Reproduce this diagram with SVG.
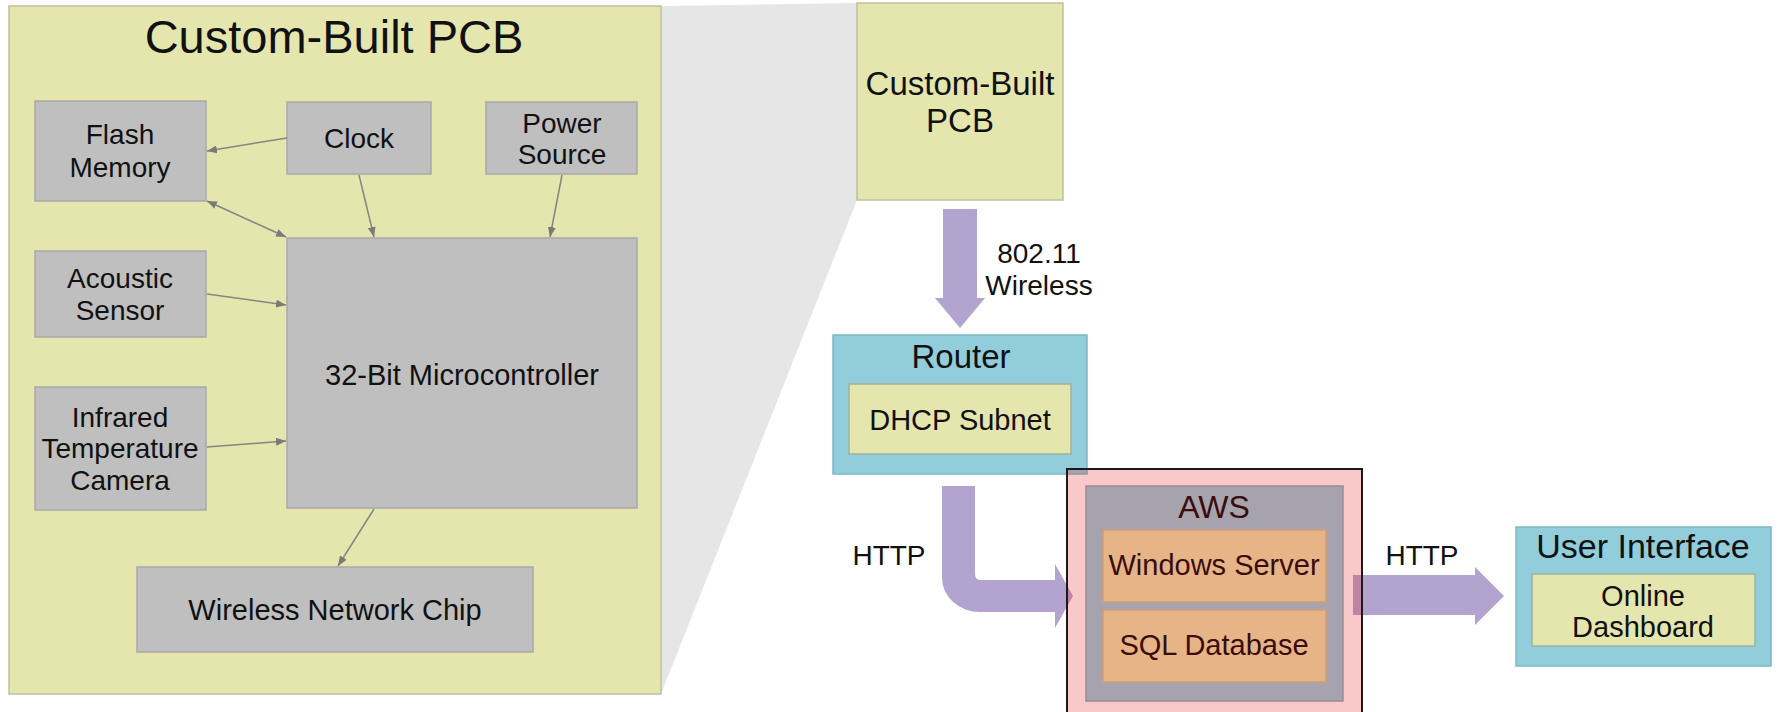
<svg xmlns="http://www.w3.org/2000/svg" width="1777" height="712" viewBox="0 0 1777 712">
  <style>
    text { font-family: "Liberation Sans", Arial, sans-serif; fill: #111; text-anchor: middle; }
    .panel { fill: #e4e6ae; stroke: #bfc19b; stroke-width: 1.5; }
    .part { fill: #bfbfbf; stroke: #a9a9a9; stroke-width: 1.5; }
    .blue { fill: #92cddc; stroke: #7fb7c5; stroke-width: 1.5; }
    .inner { fill: #e4e6ae; stroke: #9fb39a; stroke-width: 1.5; }
    .orange { fill: #e6b486; stroke: #cf9f78; stroke-width: 1.5; }
    .wire { stroke: #858585; stroke-width: 1.5; fill: none; marker-end: url(#tip); }
    .flow { fill: #b3a4cf; }
    .t28 { font-size: 28px; }
    .t29 { font-size: 29px; }
    .aws { fill: #3a0c0c; }
  </style>
  <defs>
    <marker id="tip" viewBox="0 0 10 8" refX="10" refY="4" markerWidth="10" markerHeight="8" markerUnits="userSpaceOnUse" orient="auto-start-reverse">
      <path d="M0,0 L10,4 L0,8 z" fill="#7a7a7a"/>
    </marker>
  </defs>

  <rect width="1777" height="712" fill="#ffffff"/>

  <!-- zoom wedge linking the detailed board to its block -->
  <polygon id="zoom-wedge" points="661,6 857,3 857,200 661,694" fill="#e6e6e6"/>

  <!-- detailed board -->
  <g id="pcb-detail">
    <rect class="panel" x="9" y="6" width="652" height="688"/>
    <text x="334" y="53" style="font-size:47px">Custom-Built PCB</text>
  </g>

  <g id="flash-memory">
    <rect class="part" x="35" y="101" width="171" height="100"/>
    <text class="t28" x="120" y="144">Flash</text>
    <text class="t28" x="120" y="177">Memory</text>
  </g>

  <g id="clock">
    <rect class="part" x="287" y="102" width="144" height="72"/>
    <text class="t28" x="359" y="148">Clock</text>
  </g>

  <g id="power-source">
    <rect class="part" x="486" y="102" width="151" height="72"/>
    <text class="t28" x="562" y="133">Power</text>
    <text class="t28" x="562" y="164">Source</text>
  </g>

  <g id="acoustic-sensor">
    <rect class="part" x="35" y="251" width="171" height="86"/>
    <text class="t28" x="120" y="288">Acoustic</text>
    <text class="t28" x="120" y="320">Sensor</text>
  </g>

  <g id="ir-camera">
    <rect class="part" x="35" y="387" width="171" height="123"/>
    <text class="t28" x="120" y="427">Infrared</text>
    <text class="t28" x="120" y="458">Temperature</text>
    <text class="t28" x="120" y="490">Camera</text>
  </g>

  <g id="microcontroller">
    <rect class="part" x="287" y="238" width="350" height="270"/>
    <text class="t29" x="462" y="385">32-Bit Microcontroller</text>
  </g>

  <g id="wireless-chip">
    <rect class="part" x="137" y="567" width="396" height="85"/>
    <text class="t29" x="335" y="620">Wireless Network Chip</text>
  </g>

  <!-- on-board signal lines -->
  <g id="board-connectors">
    <line class="wire" x1="287" y1="138" x2="207" y2="151"/>
    <line class="wire" x1="207" y1="201" x2="286" y2="237" marker-start="url(#tip)"/>
    <line class="wire" x1="359" y1="175" x2="374" y2="237"/>
    <line class="wire" x1="562" y1="175" x2="550" y2="237"/>
    <line class="wire" x1="207" y1="294" x2="286" y2="305"/>
    <line class="wire" x1="207" y1="447" x2="286" y2="441"/>
    <line class="wire" x1="374" y1="509" x2="338" y2="566"/>
  </g>

  <!-- system overview -->
  <g id="pcb-block">
    <rect class="panel" x="857" y="3" width="206" height="197"/>
    <text x="960" y="95" style="font-size:33px">Custom-Built</text>
    <text x="960" y="132" style="font-size:33px">PCB</text>
  </g>

  <g id="router">
    <rect class="blue" x="833" y="335" width="254" height="139"/>
    <text x="961" y="368" style="font-size:33px">Router</text>
    <rect class="inner" x="849" y="384" width="222" height="70"/>
    <text class="t29" x="960" y="430">DHCP Subnet</text>
  </g>

  <g id="flow-connectors">
    <path class="flow" d="M943,209 L977,209 L977,298 L985,298 L960,328 L935,298 L943,298 Z"/>
    <text class="t28" x="1039" y="263">802.11</text>
    <text class="t28" x="1039" y="295">Wireless</text>

    <path class="flow" d="M942,486 L975,486 L975,574 Q975,580 981,580 L1055,580 L1055,564 L1073,596 L1055,628 L1055,612 L980,612 A38,34 0 0 1 942,578 Z"/>
    <text class="t28" x="889" y="565">HTTP</text>

    <path class="flow" d="M1353,575 L1475,575 L1475,567 L1504,596 L1475,625 L1475,615 L1353,615 Z"/>
    <text class="t28" x="1422" y="565">HTTP</text>
  </g>

  <g id="cloud">
    <rect x="1067" y="469" width="295" height="252" fill="rgb(230,30,30)" fill-opacity="0.24" stroke="#1a1a1a" stroke-width="2"/>
    <rect x="1086" y="486" width="257" height="215" fill="#a6a3ae" stroke="#998d96" stroke-width="1.5"/>
    <text class="aws" x="1214" y="518" style="font-size:32px">AWS</text>
    <g id="windows-server">
      <rect class="orange" x="1103" y="530" width="223" height="72"/>
      <text class="t29 aws" x="1214" y="575">Windows Server</text>
    </g>
    <g id="sql-database">
      <rect class="orange" x="1103" y="610" width="223" height="72"/>
      <text class="t29 aws" x="1214" y="655">SQL Database</text>
    </g>
  </g>

  <g id="user-interface">
    <rect class="blue" x="1516" y="527" width="255" height="139"/>
    <text x="1643" y="558" style="font-size:34px">User Interface</text>
    <rect class="inner" x="1532" y="574" width="223" height="72"/>
    <text class="t29" x="1643" y="606">Online</text>
    <text class="t29" x="1643" y="637">Dashboard</text>
  </g>
</svg>
